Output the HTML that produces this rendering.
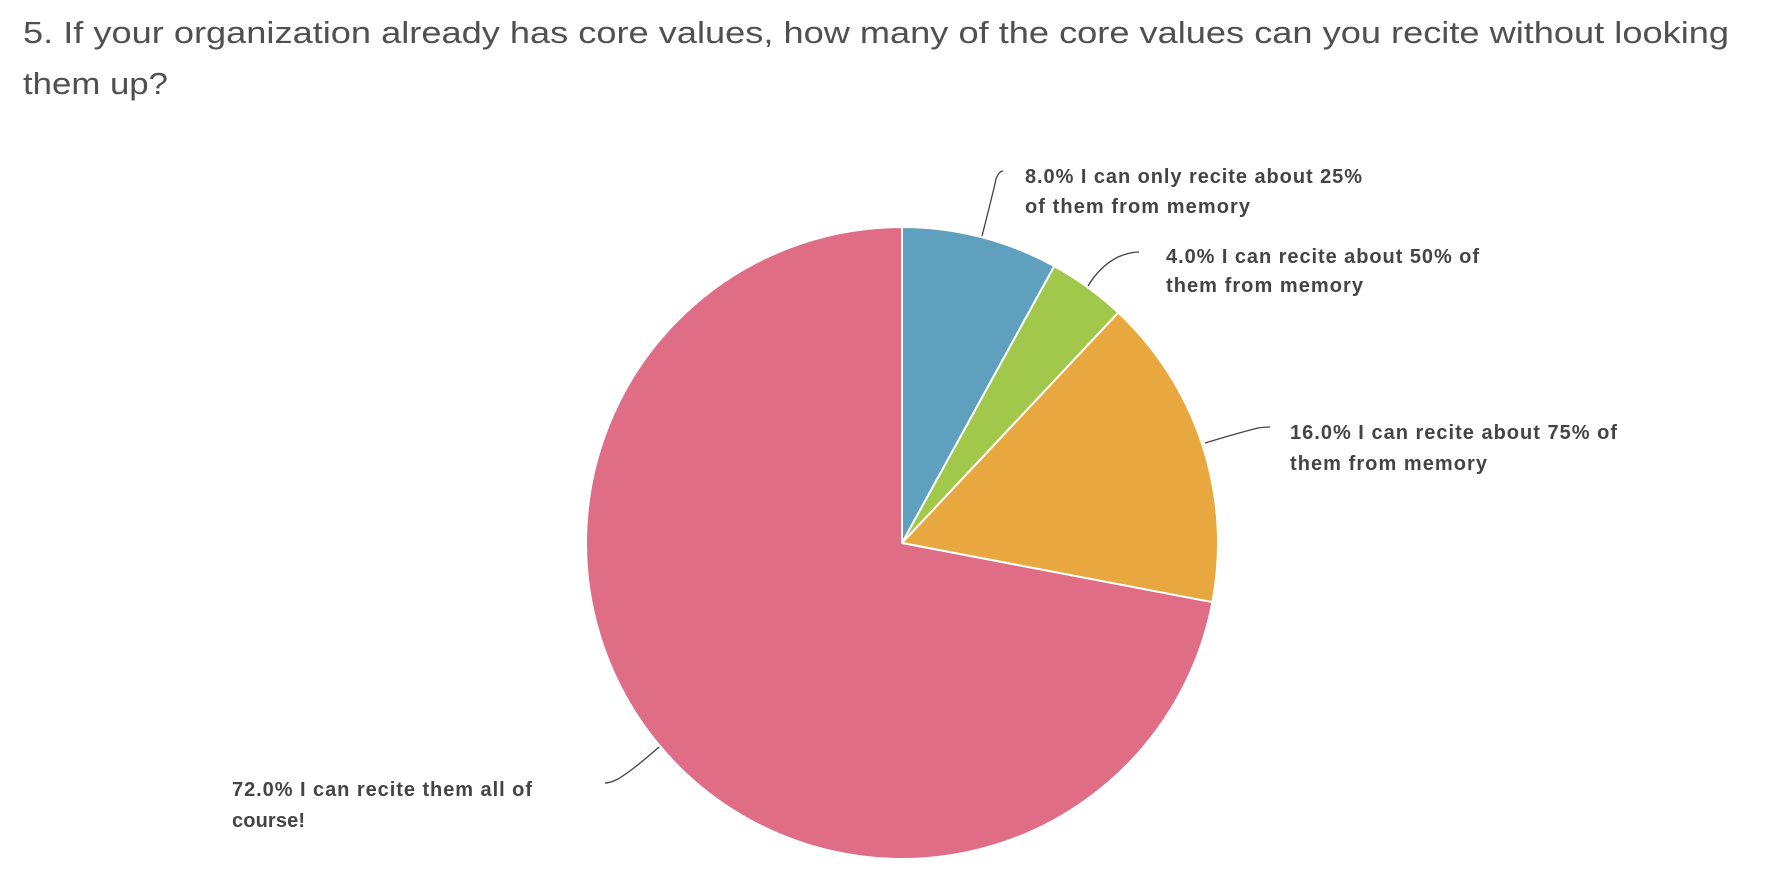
<!DOCTYPE html>
<html><head><meta charset="utf-8"><style>
html,body{margin:0;padding:0;background:#fff;}
svg{display:block;}
</style></head><body>
<svg width="1772" height="870" viewBox="0 0 1772 870" xmlns="http://www.w3.org/2000/svg">
<g font-family="Liberation Sans, sans-serif" fill="#505050" font-size="31">
<text x="23" y="43" textLength="1706" lengthAdjust="spacingAndGlyphs">5. If your organization already has core values, how many of the core values can you recite without looking</text>
<text x="23" y="94" textLength="145" lengthAdjust="spacingAndGlyphs">them up?</text>
</g>
<g stroke="#fff" stroke-width="2" stroke-linejoin="round">
<path d="M902,543 L902,227 A316,316 0 0 1 1054.3,266.1 Z" fill="#5ea0bd"/>
<path d="M902,543 L1054.3,266.1 A316,316 0 0 1 1118.3,312.6 Z" fill="#a1c84a"/>
<path d="M902,543 L1118.3,312.6 A316,316 0 0 1 1212.4,602.2 Z" fill="#e8a73f"/>
<path d="M902,543 L1212.4,602.2 A316,316 0 1 1 902,227 Z" fill="#df6d86"/>
</g>
<g fill="none" stroke="#444" stroke-width="1.3">
<path d="M982,236 Q994,189 996,179 Q999,171 1003,171"/>
<path d="M1088,286 Q1100,266 1118,257 Q1130,252 1139,252"/>
<path d="M1205,443 Q1238,433 1258,428 Q1265,427 1270,427"/>
<path d="M659,747 Q633,770 618,779 Q610,783 605,783"/>
</g>
<g font-family="Liberation Sans, sans-serif" font-weight="bold" font-size="20" fill="#444" lengthAdjust="spacingAndGlyphs">
<text x="1025" y="183" textLength="337">8.0% I can only recite about 25%</text>
<text x="1025" y="213" textLength="225">of them from memory</text>
<text x="1166" y="263" textLength="313">4.0% I can recite about 50% of</text>
<text x="1166" y="292" textLength="197">them from memory</text>
<text x="1290" y="439" textLength="327">16.0% I can recite about 75% of</text>
<text x="1290" y="470" textLength="197">them from memory</text>
<text x="232" y="796" textLength="300">72.0% I can recite them all of</text>
<text x="232" y="827" textLength="73">course!</text>
</g>
</svg>
</body></html>
